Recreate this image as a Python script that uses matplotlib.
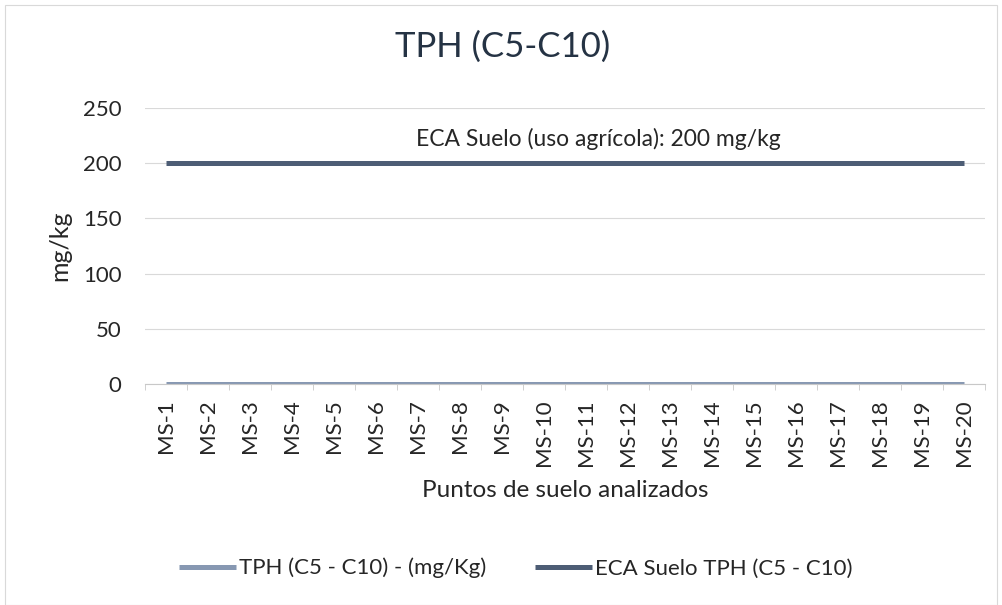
import matplotlib.pyplot as plt
from matplotlib.patches import Rectangle

# data
puntos = ["MS-%d" % i for i in range(1, 21)]
tph = [0] * 20
eca = [200] * 20
y_ticks = [0, 50, 100, 150, 200, 250]

plt.rcParams['font.family'] = ['Lato', 'DejaVu Sans']

fig = plt.figure(figsize=(10.02, 6.05), dpi=100)
ax = fig.add_axes([0.1447, 0.365, 0.838, 0.4565])

x = list(range(len(puntos)))
ax.plot(x, tph, color='#8798b2', lw=3.6, solid_capstyle='butt', label='TPH (C5 - C10) - (mg/Kg)')
ax.plot(x, eca, color='#4d5d75', lw=3.6, solid_capstyle='butt', label='ECA Suelo TPH (C5 - C10)')

ax.set_xlim(-0.5, len(puntos) - 0.5)
ax.set_ylim(0, 250)
ax.set_yticks(y_ticks)
ax.set_xticks(x)
ax.set_xticklabels(puntos, rotation=90, fontsize=16, color='#262626')
ax.tick_params(axis='y', length=0, labelsize=16, labelcolor='#262626', pad=17)
ax.set_xticks([i - 0.5 for i in range(len(puntos) + 1)], minor=True)
ax.tick_params(axis='x', which='minor', length=4, color='#c8c8c8')
ax.tick_params(axis='x', which='major', length=0, pad=11)
ax.grid(axis='y', color='#d9d9d9', lw=0.8)
ax.set_axisbelow(True)
for s in ['top', 'right', 'left']:
    ax.spines[s].set_visible(False)
ax.spines['bottom'].set_color('#c8c8c8')

ax.text(10.3, 222, 'ECA Suelo (uso agrícola): 200 mg/kg', ha='center', va='center',
        fontsize=16.5, color='#262626')

ax.set_ylabel('mg/kg', fontsize=18, color='#262626', labelpad=8)
ax.set_xlabel('Puntos de suelo analizados', fontsize=17.5, color='#262626', labelpad=10)
fig.text(0.502, 0.922, 'TPH (C5-C10)', ha='center', va='center', fontsize=25, color='#253344')

fig.legend(loc='center', bbox_to_anchor=(0.515, 0.061), ncol=2, frameon=False,
           fontsize=16, handlelength=2.55, handletextpad=0.15, columnspacing=2.2,
           labelcolor='#262626')

fig.add_artist(Rectangle((0.005, 0.0), 0.99, 0.992, transform=fig.transFigure,
                         fill=False, ec='#d9d9d9', lw=0.8))

fig.savefig('out.png', dpi=100)
